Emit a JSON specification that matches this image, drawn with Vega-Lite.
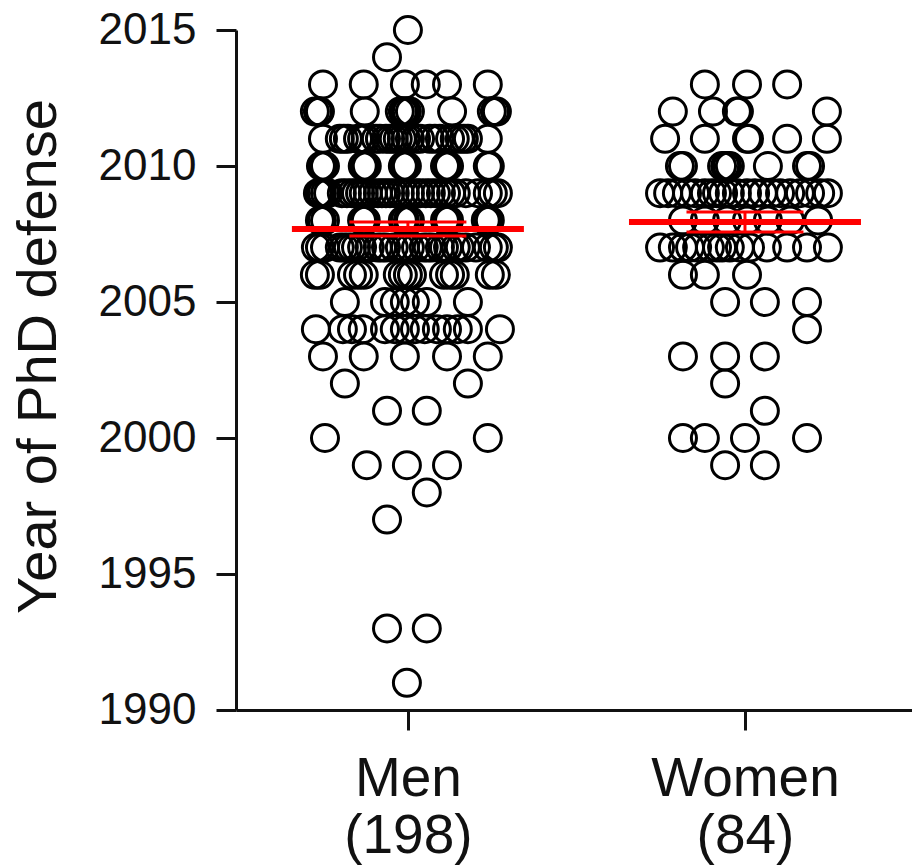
{
"$schema": "https://vega.github.io/schema/vega-lite/v6.json",
"width": 676, "height": 680,
"autosize": {"type": "none"},
"padding": {"left": 236, "top": 30, "right": 0, "bottom": 157},
"background": "white",
"config": {"view": {"stroke": null}, "axis": {"grid": false}},
"datasets": {
"summary": [
{"group":"Men","pos":1,"mean":2007.68,"lo":2007.43,"hi":2007.94},
{"group":"Women","pos":2,"mean":2007.94,"lo":2007.57,"hi":2008.31}
],
"pts": [
{"group":"Men","year":2015,"x":1.000},
{"group":"Men","year":2014,"x":0.938},
{"group":"Men","year":2013,"x":0.748},{"group":"Men","year":2013,"x":0.869},{"group":"Men","year":2013,"x":0.991},{"group":"Men","year":2013,"x":1.053},{"group":"Men","year":2013,"x":1.116},{"group":"Men","year":2013,"x":1.237},
{"group":"Men","year":2012,"x":0.724},{"group":"Men","year":2012,"x":0.733},{"group":"Men","year":2012,"x":0.739},{"group":"Men","year":2012,"x":0.872},{"group":"Men","year":2012,"x":0.976},{"group":"Men","year":2012,"x":0.985},{"group":"Men","year":2012,"x":0.991},{"group":"Men","year":2012,"x":0.997},{"group":"Men","year":2012,"x":1.006},{"group":"Men","year":2012,"x":1.131},{"group":"Men","year":2012,"x":1.249},{"group":"Men","year":2012,"x":1.258},{"group":"Men","year":2012,"x":1.264},
{"group":"Men","year":2011,"x":0.748},{"group":"Men","year":2011,"x":0.798},{"group":"Men","year":2011,"x":0.810},{"group":"Men","year":2011,"x":0.822},{"group":"Men","year":2011,"x":0.852},{"group":"Men","year":2011,"x":0.864},{"group":"Men","year":2011,"x":0.875},{"group":"Men","year":2011,"x":0.905},{"group":"Men","year":2011,"x":0.917},{"group":"Men","year":2011,"x":0.935},{"group":"Men","year":2011,"x":0.947},{"group":"Men","year":2011,"x":0.958},{"group":"Men","year":2011,"x":0.970},{"group":"Men","year":2011,"x":0.982},{"group":"Men","year":2011,"x":0.994},{"group":"Men","year":2011,"x":1.006},{"group":"Men","year":2011,"x":1.024},{"group":"Men","year":2011,"x":1.036},{"group":"Men","year":2011,"x":1.065},{"group":"Men","year":2011,"x":1.080},{"group":"Men","year":2011,"x":1.095},{"group":"Men","year":2011,"x":1.125},{"group":"Men","year":2011,"x":1.139},{"group":"Men","year":2011,"x":1.154},{"group":"Men","year":2011,"x":1.166},{"group":"Men","year":2011,"x":1.178},{"group":"Men","year":2011,"x":1.237},
{"group":"Men","year":2010,"x":0.742},{"group":"Men","year":2010,"x":0.748},{"group":"Men","year":2010,"x":0.754},{"group":"Men","year":2010,"x":0.866},{"group":"Men","year":2010,"x":0.872},{"group":"Men","year":2010,"x":0.878},{"group":"Men","year":2010,"x":0.985},{"group":"Men","year":2010,"x":0.991},{"group":"Men","year":2010,"x":0.997},{"group":"Men","year":2010,"x":1.110},{"group":"Men","year":2010,"x":1.116},{"group":"Men","year":2010,"x":1.122},{"group":"Men","year":2010,"x":1.237},{"group":"Men","year":2010,"x":1.243},
{"group":"Men","year":2009,"x":0.733},{"group":"Men","year":2009,"x":0.739},{"group":"Men","year":2009,"x":0.745},{"group":"Men","year":2009,"x":0.754},{"group":"Men","year":2009,"x":0.763},{"group":"Men","year":2009,"x":0.804},{"group":"Men","year":2009,"x":0.819},{"group":"Men","year":2009,"x":0.834},{"group":"Men","year":2009,"x":0.846},{"group":"Men","year":2009,"x":0.858},{"group":"Men","year":2009,"x":0.869},{"group":"Men","year":2009,"x":0.881},{"group":"Men","year":2009,"x":0.896},{"group":"Men","year":2009,"x":0.911},{"group":"Men","year":2009,"x":0.923},{"group":"Men","year":2009,"x":0.935},{"group":"Men","year":2009,"x":0.947},{"group":"Men","year":2009,"x":0.961},{"group":"Men","year":2009,"x":0.976},{"group":"Men","year":2009,"x":0.991},{"group":"Men","year":2009,"x":1.006},{"group":"Men","year":2009,"x":1.024},{"group":"Men","year":2009,"x":1.036},{"group":"Men","year":2009,"x":1.053},{"group":"Men","year":2009,"x":1.068},{"group":"Men","year":2009,"x":1.083},{"group":"Men","year":2009,"x":1.098},{"group":"Men","year":2009,"x":1.113},{"group":"Men","year":2009,"x":1.128},{"group":"Men","year":2009,"x":1.142},{"group":"Men","year":2009,"x":1.172},{"group":"Men","year":2009,"x":1.208},{"group":"Men","year":2009,"x":1.237},{"group":"Men","year":2009,"x":1.252},{"group":"Men","year":2009,"x":1.267},
{"group":"Men","year":2008,"x":0.739},{"group":"Men","year":2008,"x":0.745},{"group":"Men","year":2008,"x":0.754},{"group":"Men","year":2008,"x":0.864},{"group":"Men","year":2008,"x":0.869},{"group":"Men","year":2008,"x":0.875},{"group":"Men","year":2008,"x":0.985},{"group":"Men","year":2008,"x":0.991},{"group":"Men","year":2008,"x":1.000},{"group":"Men","year":2008,"x":1.006},{"group":"Men","year":2008,"x":1.110},{"group":"Men","year":2008,"x":1.116},{"group":"Men","year":2008,"x":1.122},{"group":"Men","year":2008,"x":1.231},{"group":"Men","year":2008,"x":1.237},{"group":"Men","year":2008,"x":1.243},
{"group":"Men","year":2007,"x":0.727},{"group":"Men","year":2007,"x":0.739},{"group":"Men","year":2007,"x":0.754},{"group":"Men","year":2007,"x":0.798},{"group":"Men","year":2007,"x":0.810},{"group":"Men","year":2007,"x":0.822},{"group":"Men","year":2007,"x":0.834},{"group":"Men","year":2007,"x":0.846},{"group":"Men","year":2007,"x":0.864},{"group":"Men","year":2007,"x":0.887},{"group":"Men","year":2007,"x":0.911},{"group":"Men","year":2007,"x":0.923},{"group":"Men","year":2007,"x":0.935},{"group":"Men","year":2007,"x":0.958},{"group":"Men","year":2007,"x":0.976},{"group":"Men","year":2007,"x":0.991},{"group":"Men","year":2007,"x":1.006},{"group":"Men","year":2007,"x":1.024},{"group":"Men","year":2007,"x":1.047},{"group":"Men","year":2007,"x":1.059},{"group":"Men","year":2007,"x":1.071},{"group":"Men","year":2007,"x":1.095},{"group":"Men","year":2007,"x":1.107},{"group":"Men","year":2007,"x":1.119},{"group":"Men","year":2007,"x":1.142},{"group":"Men","year":2007,"x":1.154},{"group":"Men","year":2007,"x":1.172},{"group":"Men","year":2007,"x":1.202},{"group":"Men","year":2007,"x":1.237},{"group":"Men","year":2007,"x":1.255},{"group":"Men","year":2007,"x":1.267},
{"group":"Men","year":2006,"x":0.724},{"group":"Men","year":2006,"x":0.739},{"group":"Men","year":2006,"x":0.834},{"group":"Men","year":2006,"x":0.852},{"group":"Men","year":2006,"x":0.869},{"group":"Men","year":2006,"x":0.970},{"group":"Men","year":2006,"x":0.985},{"group":"Men","year":2006,"x":1.000},{"group":"Men","year":2006,"x":1.012},{"group":"Men","year":2006,"x":1.107},{"group":"Men","year":2006,"x":1.125},{"group":"Men","year":2006,"x":1.139},{"group":"Men","year":2006,"x":1.243},{"group":"Men","year":2006,"x":1.261},
{"group":"Men","year":2005,"x":0.813},{"group":"Men","year":2005,"x":0.932},{"group":"Men","year":2005,"x":0.961},{"group":"Men","year":2005,"x":0.991},{"group":"Men","year":2005,"x":1.021},{"group":"Men","year":2005,"x":1.056},{"group":"Men","year":2005,"x":1.178},
{"group":"Men","year":2004,"x":0.727},{"group":"Men","year":2004,"x":0.807},{"group":"Men","year":2004,"x":0.834},{"group":"Men","year":2004,"x":0.866},{"group":"Men","year":2004,"x":0.932},{"group":"Men","year":2004,"x":0.961},{"group":"Men","year":2004,"x":0.991},{"group":"Men","year":2004,"x":1.021},{"group":"Men","year":2004,"x":1.050},{"group":"Men","year":2004,"x":1.086},{"group":"Men","year":2004,"x":1.116},{"group":"Men","year":2004,"x":1.148},{"group":"Men","year":2004,"x":1.178},{"group":"Men","year":2004,"x":1.273},
{"group":"Men","year":2003,"x":0.748},{"group":"Men","year":2003,"x":0.869},{"group":"Men","year":2003,"x":0.991},{"group":"Men","year":2003,"x":1.116},{"group":"Men","year":2003,"x":1.237},
{"group":"Men","year":2002,"x":0.813},{"group":"Men","year":2002,"x":1.178},
{"group":"Men","year":2001,"x":0.938},{"group":"Men","year":2001,"x":1.056},
{"group":"Men","year":2000,"x":0.754},{"group":"Men","year":2000,"x":1.237},
{"group":"Men","year":1999,"x":0.878},{"group":"Men","year":1999,"x":0.997},{"group":"Men","year":1999,"x":1.116},
{"group":"Men","year":1998,"x":1.056},
{"group":"Men","year":1997,"x":0.938},
{"group":"Men","year":1993,"x":0.938},{"group":"Men","year":1993,"x":1.056},
{"group":"Men","year":1991,"x":0.997},
{"group":"Women","year":2013,"x":1.881},{"group":"Women","year":2013,"x":2.006},{"group":"Women","year":2013,"x":2.125},
{"group":"Women","year":2012,"x":1.786},{"group":"Women","year":2012,"x":1.905},{"group":"Women","year":2012,"x":1.976},{"group":"Women","year":2012,"x":1.982},{"group":"Women","year":2012,"x":2.243},
{"group":"Women","year":2011,"x":1.763},{"group":"Women","year":2011,"x":1.881},{"group":"Women","year":2011,"x":2.006},{"group":"Women","year":2011,"x":2.012},{"group":"Women","year":2011,"x":2.125},{"group":"Women","year":2011,"x":2.243},
{"group":"Women","year":2010,"x":1.807},{"group":"Women","year":2010,"x":1.816},{"group":"Women","year":2010,"x":1.932},{"group":"Women","year":2010,"x":1.941},{"group":"Women","year":2010,"x":1.947},{"group":"Women","year":2010,"x":1.955},{"group":"Women","year":2010,"x":2.068},{"group":"Women","year":2010,"x":2.184},{"group":"Women","year":2010,"x":2.193},
{"group":"Women","year":2009,"x":1.748},{"group":"Women","year":2009,"x":1.772},{"group":"Women","year":2009,"x":1.798},{"group":"Women","year":2009,"x":1.828},{"group":"Women","year":2009,"x":1.852},{"group":"Women","year":2009,"x":1.881},{"group":"Women","year":2009,"x":1.902},{"group":"Women","year":2009,"x":1.917},{"group":"Women","year":2009,"x":1.935},{"group":"Women","year":2009,"x":1.955},{"group":"Women","year":2009,"x":1.976},{"group":"Women","year":2009,"x":2.006},{"group":"Women","year":2009,"x":2.030},{"group":"Women","year":2009,"x":2.053},{"group":"Women","year":2009,"x":2.080},{"group":"Women","year":2009,"x":2.104},{"group":"Women","year":2009,"x":2.134},{"group":"Women","year":2009,"x":2.163},{"group":"Women","year":2009,"x":2.193},{"group":"Women","year":2009,"x":2.223},{"group":"Women","year":2009,"x":2.246},
{"group":"Women","year":2008,"x":1.816},{"group":"Women","year":2008,"x":1.881},{"group":"Women","year":2008,"x":1.947},{"group":"Women","year":2008,"x":2.006},{"group":"Women","year":2008,"x":2.068},{"group":"Women","year":2008,"x":2.134},{"group":"Women","year":2008,"x":2.217},
{"group":"Women","year":2007,"x":1.748},{"group":"Women","year":2007,"x":1.786},{"group":"Women","year":2007,"x":1.816},{"group":"Women","year":2007,"x":1.837},{"group":"Women","year":2007,"x":1.858},{"group":"Women","year":2007,"x":1.896},{"group":"Women","year":2007,"x":1.917},{"group":"Women","year":2007,"x":1.932},{"group":"Women","year":2007,"x":1.955},{"group":"Women","year":2007,"x":1.985},{"group":"Women","year":2007,"x":2.015},{"group":"Women","year":2007,"x":2.065},{"group":"Women","year":2007,"x":2.125},{"group":"Women","year":2007,"x":2.184},{"group":"Women","year":2007,"x":2.246},
{"group":"Women","year":2006,"x":1.816},{"group":"Women","year":2006,"x":1.881},{"group":"Women","year":2006,"x":2.006},
{"group":"Women","year":2005,"x":1.941},{"group":"Women","year":2005,"x":2.059},{"group":"Women","year":2005,"x":2.184},
{"group":"Women","year":2004,"x":2.184},
{"group":"Women","year":2003,"x":1.816},{"group":"Women","year":2003,"x":1.941},{"group":"Women","year":2003,"x":2.059},
{"group":"Women","year":2002,"x":1.941},
{"group":"Women","year":2001,"x":2.059},
{"group":"Women","year":2000,"x":1.816},{"group":"Women","year":2000,"x":1.881},{"group":"Women","year":2000,"x":2.000},{"group":"Women","year":2000,"x":2.184},
{"group":"Women","year":1999,"x":1.941},{"group":"Women","year":1999,"x":2.059}
]
},
"encoding": {
"x": {"type": "quantitative", "scale": {"domain": [0.49, 2.4955], "nice": false, "zero": false},
  "axis": {"values": [1, 2], "title": null, "labelExpr": "datum.value == 1 ? ['Men', '(198)'] : ['Women', '(84)']",
    "labelFont": "Liberation Sans", "labelFontSize": 55, "labelColor": "#111111", "labelBaseline": "alphabetic", "labelLineHeight": 57,
    "labelPadding": 65, "labelLimit": 0, "tickSize": 20, "tickWidth": 3, "tickColor": "#111111", "domainColor": "#111111", "domainWidth": 3, "labelFlush": false, "labelOverlap": false}},
"y": {"type": "quantitative", "scale": {"domain": [1990, 2015], "nice": false, "zero": false},
  "axis": {"values": [1990, 1995, 2000, 2005, 2010, 2015], "format": "d", "title": "Year of PhD defense",
    "titleFont": "Liberation Sans", "titleFontSize": 56, "titleFontWeight": "normal", "titleColor": "#111111",
    "titleAngle": -90, "titleX": -181, "titleY": 326, "titleAlign": "center", "titleBaseline": "alphabetic", "titleLimit": 0,
    "labelFont": "Liberation Sans", "labelFontSize": 44, "labelColor": "#111111", "labelPadding": 20, "labelBaseline": "middle", "labelLimit": 0,
    "tickSize": 20, "tickWidth": 3, "tickColor": "#111111", "domainColor": "#111111", "domainWidth": 3, "labelFlush": false, "labelOverlap": false}}
},
"layer": [
{"data": {"name": "summary"}, "mark": {"type": "rule", "color": "#ff0000", "strokeWidth": 3},
 "encoding": {"x": {"field": "pos"}, "y": {"field": "lo"}, "y2": {"field": "hi"}}},
{"data": {"name": "pts"}, "mark": {"type": "point", "shape": "circle", "filled": false, "size": 729, "strokeWidth": 3, "color": "#000000", "opacity": 1},
 "encoding": {"x": {"field": "x"}, "y": {"field": "year"}}},
{"data": {"name": "summary"}, "mark": {"type": "tick", "orient": "horizontal", "size": 117, "thickness": 3, "color": "#ff0000", "opacity": 1},
 "encoding": {"x": {"field": "pos"}, "y": {"field": "hi"}}},
{"data": {"name": "summary"}, "mark": {"type": "tick", "orient": "horizontal", "size": 117, "thickness": 3, "color": "#ff0000", "opacity": 1},
 "encoding": {"x": {"field": "pos"}, "y": {"field": "lo"}}},
{"data": {"name": "summary"}, "mark": {"type": "tick", "orient": "horizontal", "size": 232, "thickness": 6, "color": "#ff0000", "opacity": 1},
 "encoding": {"x": {"field": "pos"}, "y": {"field": "mean"}}}
]
}
